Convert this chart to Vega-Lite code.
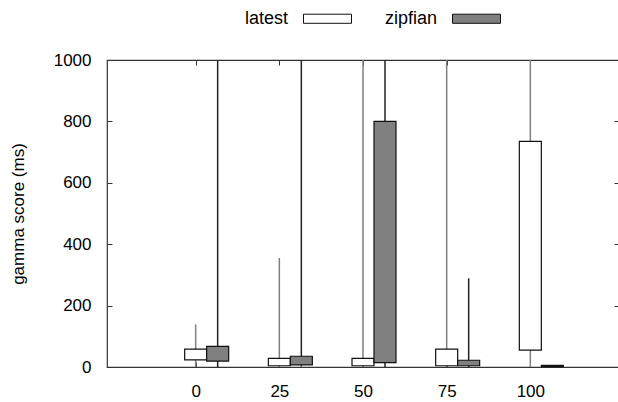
{
  "$schema": "https://vega.github.io/schema/vega-lite/v6.json",
  "width": 512,
  "height": 307,
  "autosize": {"type": "none"},
  "padding": {"left": 107, "top": 60, "right": 0, "bottom": 35},
  "background": "white",
  "config": {
    "font": "Liberation Sans",
    "view": {"stroke": "#333333", "strokeWidth": 1.2},
    "axis": {"grid": false, "domain": false, "zindex": 1, "ticks": true, "labelFont": "Liberation Sans", "titleFont": "Liberation Sans", "labelColor": "black", "titleColor": "black", "tickColor": "#333333", "tickWidth": 1, "tickSize": 5, "offset": -5, "labelFontSize": 17, "titleFontSize": 17, "titleFontWeight": "normal"},
    "axisX": {"labelPadding": 16, "labelFlush": false},
    "axisY": {"labelPadding": 16, "titlePadding": 26}
  },
  "data": {
    "values": [
      {"x": 0, "series": "latest", "min": 0, "q1": 23, "q3": 58, "max": 139},
      {"x": 0, "series": "zipfian", "min": 0, "q1": 19, "q3": 67, "max": 1000},
      {"x": 25, "series": "latest", "min": 0, "q1": 4, "q3": 28, "max": 355},
      {"x": 25, "series": "zipfian", "min": 2, "q1": 7, "q3": 35, "max": 1000},
      {"x": 50, "series": "latest", "min": 0, "q1": 4, "q3": 28, "max": 1000},
      {"x": 50, "series": "zipfian", "min": 0, "q1": 14, "q3": 800, "max": 1000},
      {"x": 75, "series": "latest", "min": 0, "q1": 4, "q3": 58, "max": 1000},
      {"x": 75, "series": "zipfian", "min": 0, "q1": 4, "q3": 22, "max": 289},
      {"x": 100, "series": "latest", "min": 0, "q1": 55, "q3": 735, "max": 1000},
      {"x": 100, "series": "zipfian", "min": 1, "q1": 1, "q3": 5, "max": 5}
    ]
  },
  "resolve": {"axis": {"x": "independent", "y": "independent"}},
  "layer": [
    {
      "encoding": {
        "x": {
          "field": "x", "type": "quantitative",
          "scale": {"domain": [-25, 125], "nice": false, "zero": false},
          "axis": {"values": [0, 25, 50, 75, 100], "title": null}
        },
        "y": {
          "field": "min", "type": "quantitative",
          "scale": {"domain": [0, 1000], "nice": false},
          "axis": {"values": [0, 200, 400, 600, 800, 1000], "format": "d", "title": "gamma score (ms)"}
        }
      },
      "layer": [
        {
          "transform": [{"filter": "datum.series === 'latest'"}],
          "mark": {"type": "rule", "strokeWidth": 1.5, "stroke": "#808080", "clip": true},
          "encoding": {"y2": {"field": "max"}}
        },
        {
          "transform": [{"filter": "datum.series === 'zipfian'"}],
          "mark": {"type": "rule", "strokeWidth": 1.5, "stroke": "#222222", "xOffset": 22, "clip": true},
          "encoding": {"y2": {"field": "max"}}
        },
        {
          "transform": [{"filter": "datum.series === 'latest'"}],
          "mark": {"type": "bar", "width": 22, "stroke": "#111111", "strokeWidth": 1.2},
          "encoding": {
            "y": {"field": "q1", "type": "quantitative"},
            "y2": {"field": "q3"},
            "fill": {"field": "series", "type": "nominal", "scale": {"domain": ["latest", "zipfian"], "range": ["#ffffff", "#808080"]},
              "legend": {
                "title": null, "orient": "none", "direction": "horizontal", "columns": 2,
                "legendX": 196, "legendY": -66,
                "symbolType": "M-1,-0.19H1V0.19H-1Z", "symbolSize": 2304,
                "symbolStrokeColor": "#111111", "symbolStrokeWidth": 1,
                "labelAlign": "right", "labelOffset": -64, "labelFontSize": 18, "labelColor": "black",
                "columnPadding": 30
              }}
          }
        },
        {
          "transform": [{"filter": "datum.series === 'zipfian'"}],
          "mark": {"type": "bar", "width": 22, "stroke": "#111111", "strokeWidth": 1.2, "xOffset": 22},
          "encoding": {
            "y": {"field": "q1", "type": "quantitative"},
            "y2": {"field": "q3"},
            "fill": {"field": "series", "type": "nominal"}
          }
        }
      ]
    },
    {
      "mark": {"type": "point", "opacity": 0},
      "encoding": {
        "x": {"field": "x", "type": "quantitative", "axis": {"orient": "top", "values": [0, 25, 50, 75, 100], "labels": false, "title": null}},
        "y": {"field": "min", "type": "quantitative", "axis": {"orient": "right", "values": [0, 200, 400, 600, 800, 1000], "labels": false, "title": null}}
      }
    }
  ]
}
